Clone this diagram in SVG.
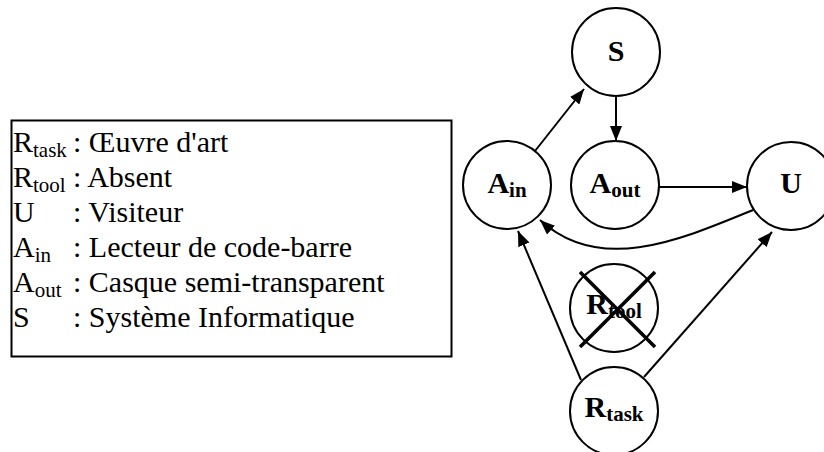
<svg xmlns="http://www.w3.org/2000/svg" width="824" height="452" viewBox="0 0 824 452">
<style>
.node circle{fill:#fff;stroke:#000;stroke-width:2}
text{font-family:'Liberation Serif','Times New Roman',Times,serif;fill:#000}
.lbl{font-weight:bold;font-size:30px;text-anchor:middle}
.sub{font-size:21px}
.leg{font-size:30px}
.edge{fill:none;stroke:#000;stroke-width:2}
.cross{stroke:#000;stroke-width:3.5}
</style>
<defs>
<marker id="ah" markerUnits="userSpaceOnUse" markerWidth="16" markerHeight="12" refX="15" refY="6" orient="auto">
<path d="M0,0 L15,6 L0,12 z" fill="#000"/>
</marker>
</defs>
<rect x="0" y="0" width="824" height="452" fill="#fff"/>
<g id="legend">
<rect x="11.5" y="120.5" width="440" height="236" fill="#fff" stroke="#000" stroke-width="2"/>
<text class="leg" x="13" y="152">R<tspan class="sub" dy="5">task</tspan></text>
<text class="leg" x="73" y="152">: Œuvre d'art</text>
<text class="leg" x="13" y="187">R<tspan class="sub" dy="5">tool</tspan></text>
<text class="leg" x="73" y="187">: Absent</text>
<text class="leg" x="13" y="222">U</text>
<text class="leg" x="73" y="222">: Visiteur</text>
<text class="leg" x="13" y="257">A<tspan class="sub" dy="5">in</tspan></text>
<text class="leg" x="73" y="257">: Lecteur de code-barre</text>
<text class="leg" x="13" y="292">A<tspan class="sub" dy="5">out</tspan></text>
<text class="leg" x="73" y="292">: Casque semi-transparent</text>
<text class="leg" x="13" y="327">S</text>
<text class="leg" x="73" y="327">: Système Informatique</text>
</g>
<g id="connectors">
<line class="edge" x1="535" y1="151" x2="584" y2="89" marker-end="url(#ah)"/>
<line class="edge" x1="616" y1="96" x2="616" y2="141" marker-end="url(#ah)"/>
<line class="edge" x1="659" y1="187" x2="747" y2="187" marker-end="url(#ah)"/>
<path class="edge" d="M753,210 C680,240 600,275 540,220" marker-end="url(#ah)"/>
<line class="edge" x1="581" y1="380" x2="518" y2="231" marker-end="url(#ah)"/>
<line class="edge" x1="644" y1="377" x2="772" y2="232" marker-end="url(#ah)"/>
</g>
<g id="node-S" class="node">
<circle cx="616" cy="52" r="44"/>
<text class="lbl" x="616" y="61">S</text>
</g>
<g id="node-Ain" class="node">
<circle cx="507" cy="185" r="44"/>
<text class="lbl" x="507" y="193">A<tspan class="sub" dy="4">in</tspan></text>
</g>
<g id="node-Aout" class="node">
<circle cx="615" cy="185" r="44"/>
<text class="lbl" x="615" y="193">A<tspan class="sub" dy="4">out</tspan></text>
</g>
<g id="node-U" class="node">
<circle cx="791" cy="186" r="44"/>
<text class="lbl" x="791" y="193">U</text>
</g>
<g id="node-Rtool" class="node">
<circle cx="614" cy="308" r="44"/>
<text class="lbl" x="614" y="314">R<tspan class="sub" dy="4">tool</tspan></text>
<line class="cross" x1="580" y1="272" x2="655" y2="347"/>
<line class="cross" x1="655" y1="272" x2="580" y2="347"/>
</g>
<g id="node-Rtask" class="node">
<circle cx="614" cy="411" r="44"/>
<text class="lbl" x="614" y="417">R<tspan class="sub" dy="4">task</tspan></text>
</g>
</svg>
